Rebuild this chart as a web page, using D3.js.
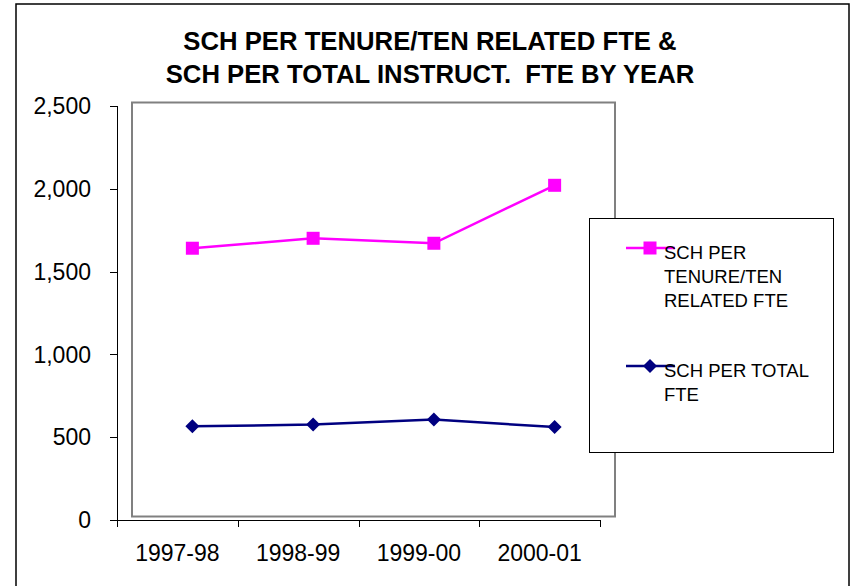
<!DOCTYPE html>
<html><head><meta charset="utf-8">
<script src="https://cdn.jsdelivr.net/npm/d3@7"></script>
<style>
html,body{margin:0;padding:0;background:#fff;}
svg{display:block;font-family:"Liberation Sans",Arial,sans-serif;}
</style></head>
<body>
<svg id="chart" width="852" height="586"></svg>
<script>
const categories = ["1997-98","1998-99","1999-00","2000-01"];
const tenureValues = [1620, 1680, 1650, 2000];
const totalValues = [545, 555, 585, 540];
const yTicks = [0, 500, 1000, 1500, 2000, 2500];
const titleLines = ["SCH PER TENURE/TEN RELATED FTE &", "SCH PER TOTAL INSTRUCT.  FTE BY YEAR"];
const legendTenure = ["SCH PER", "TENURE/TEN", "RELATED FTE"];
const legendTotal = ["SCH PER TOTAL", "FTE"];

(function(){
const svg = d3.select("#chart");
const W = 852, H = 586;
const pL = 117, pR = 600, pT = 106, pB = 520;
const dx = 15, dy = -3.5; // plot area offset

svg.append("rect").attr("x",16).attr("y",4).attr("width",833).attr("height",H+10)
  .attr("fill","#fff").attr("stroke","#000").attr("stroke-width",1.5);

const x = d3.scaleBand().domain(categories).range([pL,pR]).padding(0);
const y = d3.scaleLinear().domain([0,2500]).range([pB,pT]);

// Title
const title = svg.append("text").attr("text-anchor","middle").attr("font-weight","bold")
  .attr("font-size",25.7).attr("fill","#000").style("white-space","pre");
titleLines.forEach((t,i)=>{
  title.append("tspan").attr("x",430).attr("y",50 + i*33).text(t);
});

// Plot area frame (offset)
svg.append("rect").attr("x",pL+dx).attr("y",pT+dy).attr("width",pR-pL).attr("height",pB-pT)
  .attr("fill","none").attr("stroke","#808080").attr("stroke-width",2);

// Axes
const ax = svg.append("g").attr("stroke","#000").attr("stroke-width",1).attr("fill","none");
ax.append("line").attr("x1",pL+0.5).attr("x2",pL+0.5).attr("y1",y(2500)).attr("y2",pB+7);
ax.append("line").attr("x1",pL-7).attr("x2",pR+0.5).attr("y1",pB+0.5).attr("y2",pB+0.5);
yTicks.forEach(v=>{
  ax.append("line").attr("x1",pL-7).attr("x2",pL).attr("y1",Math.round(y(v))+0.5).attr("y2",Math.round(y(v))+0.5);
});
const xTickPos = categories.map(c=>x(c)).concat([pR]);
xTickPos.forEach(p=>{
  ax.append("line").attr("x1",Math.round(p)+0.5).attr("x2",Math.round(p)+0.5).attr("y1",pB).attr("y2",pB+7);
});

const fmt = d3.format(",");
svg.append("g").selectAll("text").data(yTicks).join("text")
  .attr("x",91).attr("y",d=>y(d)).attr("dy","0.36em").attr("text-anchor","end")
  .attr("font-size",23).attr("fill","#000").text(d=>fmt(d));

svg.append("g").selectAll("text").data(categories).join("text")
  .attr("x",d=>x(d)+x.bandwidth()/2).attr("y",561).attr("text-anchor","middle")
  .attr("font-size",23).attr("fill","#000").text(d=>d);

// Series
const cx = c => x(c)+x.bandwidth()/2 + dx;
const cy = v => y(v) + dy;
const line = d3.line().x((d,i)=>cx(categories[i])).y(d=>cy(d));
const series = [
  {vals: tenureValues, color:"#FF00FF", marker:"square"},
  {vals: totalValues, color:"#000080", marker:"diamond"}
];
series.forEach(s=>{
  svg.append("path").datum(s.vals).attr("d",line).attr("fill","none")
    .attr("stroke",s.color).attr("stroke-width",2.5);
  const g = svg.append("g");
  s.vals.forEach((v,i)=>{
    if(s.marker==="square"){
      g.append("rect").attr("x",cx(categories[i])-6.5).attr("y",cy(v)-6.5).attr("width",13).attr("height",13).attr("fill",s.color);
    } else {
      const px=cx(categories[i]), py=cy(v), r=7;
      g.append("path").attr("d",`M${px},${py-r}L${px+r},${py}L${px},${py+r}L${px-r},${py}Z`).attr("fill",s.color);
    }
  });
});

// Legend
svg.append("rect").attr("x",589.5).attr("y",218.5).attr("width",244).attr("height",234)
  .attr("fill","#fff").attr("stroke","#000").attr("stroke-width",1);
const lg = svg.append("g");
function legendItem(yc, color, marker, lines){
  lg.append("line").attr("x1",626).attr("x2",675).attr("y1",yc).attr("y2",yc).attr("stroke",color).attr("stroke-width",2.5);
  if(marker==="square"){
    lg.append("rect").attr("x",650-6.5).attr("y",yc-6.5).attr("width",13).attr("height",13).attr("fill",color);
  } else {
    const r=7;
    lg.append("path").attr("d",`M650,${yc-r}L${650+r},${yc}L650,${yc+r}L${650-r},${yc}Z`).attr("fill",color);
  }
  const t = lg.append("text").attr("font-size",18.5).attr("fill","#000");
  lines.forEach((l,i)=>t.append("tspan").attr("x",664).attr("y",yc+11+i*24).text(l));
}
legendItem(248, "#FF00FF", "square", legendTenure);
legendItem(366, "#000080", "diamond", legendTotal);
})();
</script>
</body></html>
